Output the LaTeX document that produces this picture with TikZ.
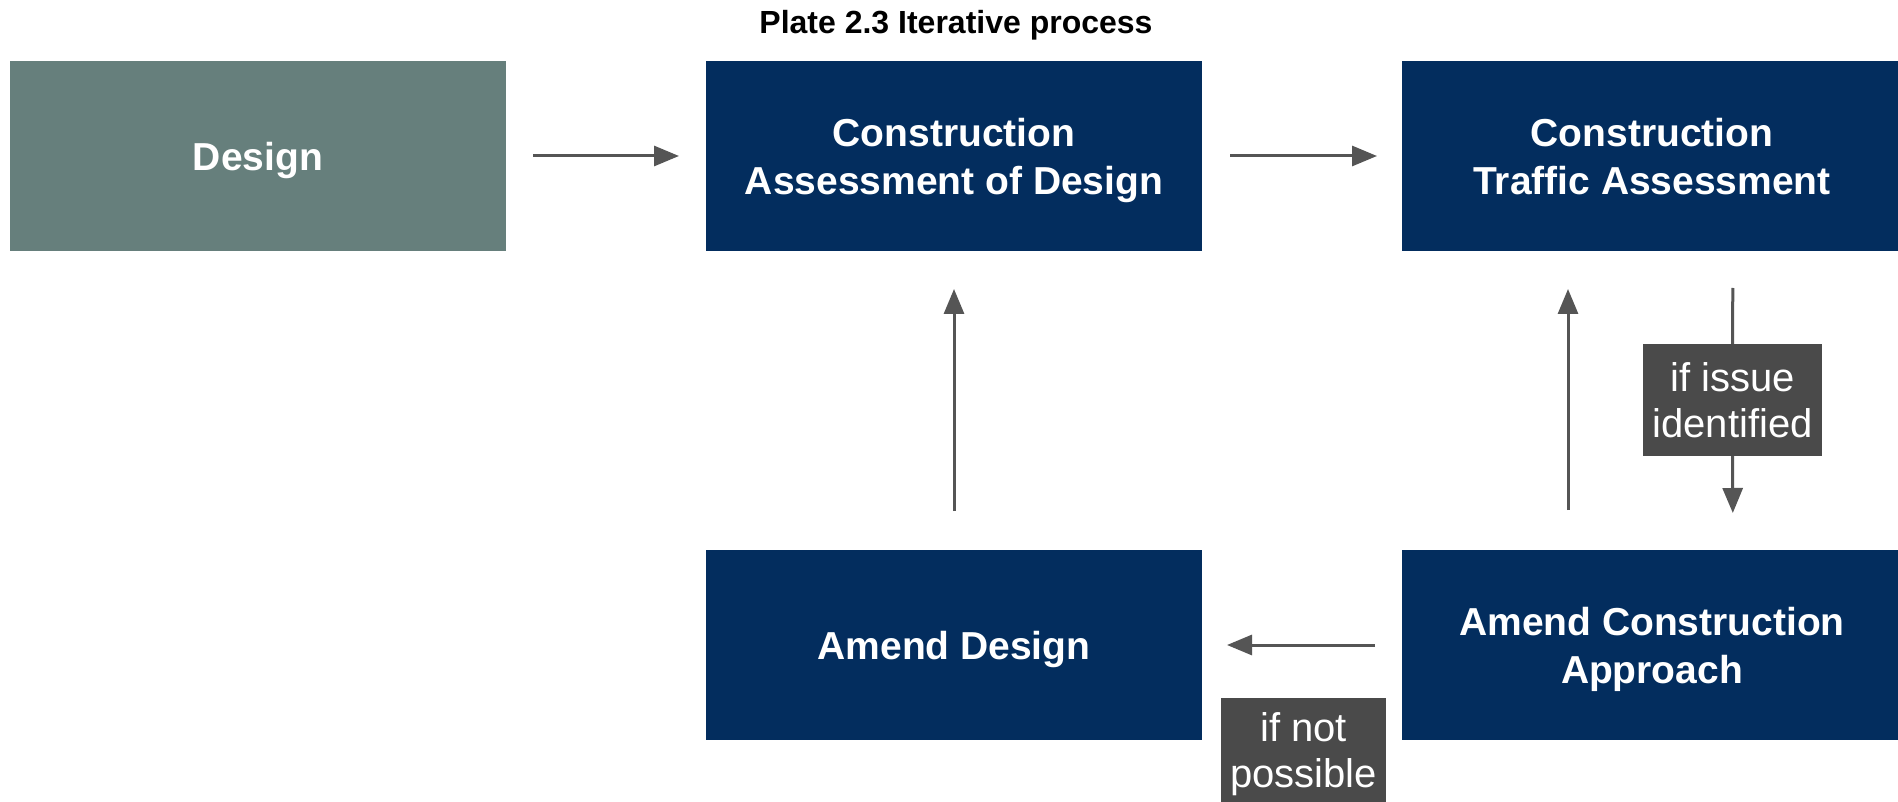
\documentclass[tikz,border=0pt]{standalone}
\usepackage{fontspec}
\setmainfont{Liberation Sans}
\usetikzlibrary{arrows.meta}
\definecolor{navy}{HTML}{032D5E}
\definecolor{sage}{HTML}{667F7C}
\definecolor{tagbg}{HTML}{4A4A4A}
\definecolor{arrowc}{HTML}{555555}
\tikzset{
  stepbox/.style={rectangle, fill=navy, text=white, minimum width=496pt, minimum height=190pt,
    inner sep=0pt, outer sep=0pt, align=center, text depth=0pt, font=\fontsize{39}{48}\selectfont\bfseries},
  startbox/.style={stepbox, fill=sage},
  tag/.style={rectangle, fill=tagbg, text=white, inner sep=0pt, outer sep=0pt, align=center,
    text depth=0pt, font=\fontsize{40}{46}\selectfont},
  arr/.style={draw=arrowc, line width=3pt, -{Triangle[length=25pt,width=20pt]}},
  ln/.style={draw=arrowc, line width=3pt}
}
\begin{document}
\begin{tikzpicture}[x=1pt,y=-1pt]
\useasboundingbox (0,0) rectangle (1898,802);
\fill[white] (0,0) rectangle (1898,802);
\node[font=\fontsize{32}{38}\selectfont\bfseries] (title) at (956,25) {Plate 2.3 Iterative process};
\node[startbox] (design) at (258,156) {Design};
\node[stepbox] (cad) at (954,156) {Construction\\Assessment of Design};
\node[stepbox, minimum width=500pt] (cta) at (1652,156) {Construction\\Traffic Assessment};
\node[stepbox] (ad) at (954,645) {Amend Design};
\node[stepbox, minimum width=500pt] (aca) at (1652,645) {Amend Construction\\Approach};
\node[tag, text depth=-7pt, minimum width=179pt, minimum height=112pt] (issue) at (1732.5,400) {if issue\\identified};
\node[tag, minimum width=165pt, minimum height=104pt] (notp) at (1303.5,750) {if not\\possible};
\draw[arr, shorten <=27pt, shorten >=27pt] (design.east) -- (cad.west);
\draw[arr, shorten <=28pt, shorten >=25pt] (cad.east) -- (cta.west);
\draw[arr, shorten <=39pt, shorten >=38pt] (ad.north) -- (cad.south);
\draw[arr, shorten <=40pt, shorten >=38pt] ([xshift=166pt]aca.north west) -- ([xshift=166pt]cta.south west);
\draw[ln, shorten <=37pt] ([xshift=331pt]cta.south west) -- (issue.north);
\draw[arr, shorten >=37pt] (issue.south) -- ([xshift=331pt]aca.north west);
\draw[arr, shorten <=27pt, shorten >=25pt] (aca.west) -- (ad.east);
\end{tikzpicture}
\end{document}
